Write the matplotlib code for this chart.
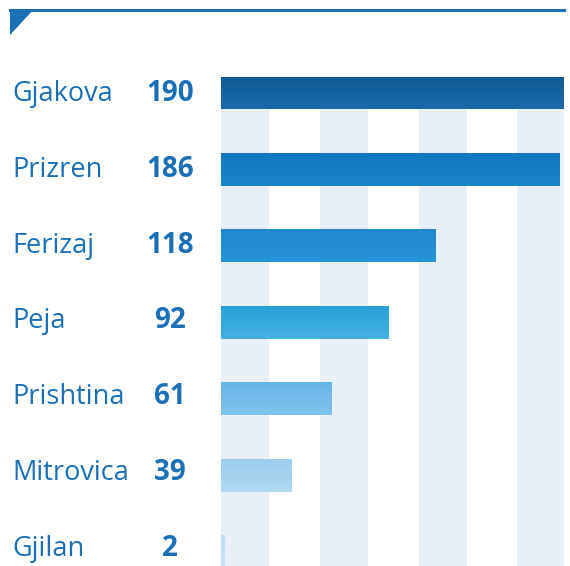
import matplotlib
matplotlib.use("Agg")
import matplotlib.pyplot as plt
import numpy as np
from matplotlib.colors import LinearSegmentedColormap
from matplotlib.patches import Polygon

cities = ["Gjakova", "Prizren", "Ferizaj", "Peja", "Prishtina", "Mitrovica", "Gjilan"]
values = [190, 186, 118, 92, 61, 39, 2]
bar_top_colors = ["#0f5a96", "#1277bf", "#1f88cc", "#28a0d8", "#66b6e4", "#9ccdee", "#c2ddf2"]
bar_bot_colors = ["#1a6aab", "#1784c8", "#2595d8", "#45b0e2", "#80c4ec", "#b0d8f2", "#c8e0f4"]

W, H = 570, 566
fig = plt.figure(figsize=(W / 100, H / 100), dpi=100)
plt.rcParams['font.family'] = ['Open Sans', 'DejaVu Sans']

text_color = "#1a6fb5"
stripe_color = "#e8eff7"

ax_left, ax_right = 221 / W, 564 / W
ax_top = 1 - 76.5 / H
ax = fig.add_axes([ax_left, 0, ax_right - ax_left, ax_top])

bar_h = 0.43
xmax = 188.5

# background stripes
for s in [0, 54.4, 108.8, 162.6]:
    ax.axvspan(s, min(s + 26.4, xmax), color=stripe_color, lw=0, zorder=0)

grad = np.linspace(0, 1, 64).reshape(-1, 1)
for i, (v, c1, c2) in enumerate(zip(values, bar_top_colors, bar_bot_colors)):
    cmap = LinearSegmentedColormap.from_list(f"g{i}", [c1, c2])
    ax.imshow(grad, cmap=cmap, aspect="auto",
              extent=(0, v, i + bar_h / 2, i - bar_h / 2), zorder=2,
              interpolation="bilinear")
ax.set_xlim(0, xmax)
ax.set_ylim(6 + 14 / 76.5, -bar_h / 2)
ax.axis("off")

# labels
for i, (c, v) in enumerate(zip(cities, values)):
    yb = 1 - (100.7 + i * 75.9) / H
    fig.text(12 / W, yb, c, ha="left", va="baseline", fontsize=19.5, color=text_color)
    fig.text(170 / W, yb, str(v), ha="center", va="baseline", fontsize=20,
             color=text_color, fontweight="bold")

# top line and triangle
fig.add_artist(plt.Line2D([10 / W, 564 / W], [1 - 10 / H, 1 - 10 / H], color="#1a6fb5", lw=2.2))
tri = Polygon([[10 / W, 1 - 9 / H], [34 / W, 1 - 9 / H], [10 / W, 1 - 35 / H]],
              closed=True, facecolor="#1a6fb5", edgecolor="none", transform=fig.transFigure)
fig.add_artist(tri)

fig.savefig("out.png", dpi=100)
